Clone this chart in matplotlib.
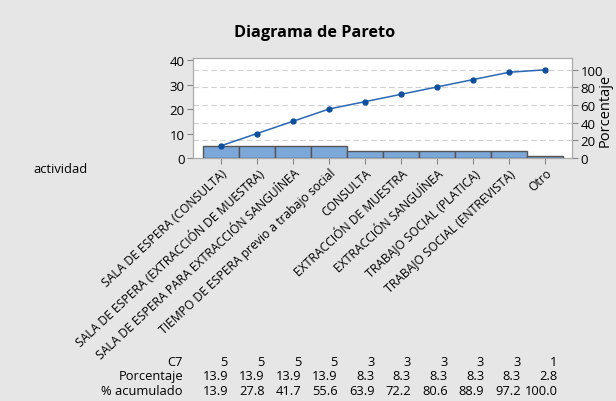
import matplotlib
matplotlib.use("Agg")
import matplotlib.pyplot as plt
import numpy as np

categories = [
    "SALA DE ESPERA (CONSULTA)",
    "SALA DE ESPERA (EXTRACCIÓN DE MUESTRA)",
    "SALA DE ESPERA PARA EXTRACCIÓN SANGUÍNEA",
    "TIEMPO DE ESPERA previo a trabajo social",
    "CONSULTA",
    "EXTRACCIÓN DE MUESTRA",
    "EXTRACCIÓN SANGUÍNEA",
    "TRABAJO SOCIAL (PLATICA)",
    "TRABAJO SOCIAL (ENTREVISTA)",
    "Otro",
]
counts = [5, 5, 5, 5, 3, 3, 3, 3, 3, 1]
percent = [13.9, 13.9, 13.9, 13.9, 8.3, 8.3, 8.3, 8.3, 8.3, 2.8]
cum_percent = [13.9, 27.8, 41.7, 55.6, 63.9, 72.2, 80.6, 88.9, 97.2, 100.0]
left_ticks = [0, 10, 20, 30, 40]
right_ticks = [0, 20, 40, 60, 80, 100]

plt.rcParams['font.family'] = ['Open Sans', 'DejaVu Sans']

bg = '#e6e6e6'
fig = plt.figure(figsize=(6.16, 4.02), dpi=100, facecolor=bg)
ax = fig.add_axes([193/616, 1-159/402, (572-193)/616, (159-59.3)/402])
ax.set_facecolor('white')

total = sum(counts)
x = np.arange(len(categories))
cum_counts = np.cumsum(counts)

ax.bar(x, counts, width=1.0, color='#7ba7d9', edgecolor='#555555', linewidth=1.0, zorder=3)
ax.plot(x, cum_counts, color='#2a68b5', lw=1.1, marker='o', markersize=3.5,
        markerfacecolor='#0d4f9e', markeredgecolor='#0d4f9e', zorder=4)

ymax = 40.7
ax.set_ylim(0, ymax)
ax.set_xlim(-0.78, 9.75)
ax.set_yticks(left_ticks)
ax.tick_params(axis='y', labelsize=9.5, length=4, color='#888888', pad=2)
ax.set_xticks(x)
ax.set_xticklabels(categories, rotation=43, ha='right', rotation_mode='anchor', fontsize=8.7)
ax.tick_params(axis='x', length=4, color='#888888', pad=2)

ax2 = ax.twinx()
ax2.set_ylim(0, ymax * 100 / total)
ax2.set_yticks(right_ticks)
ax2.tick_params(axis='y', labelsize=9.5, length=4, color='#888888', pad=2)
for t in right_ticks[1:]:
    ax2.axhline(t, color='#d0d0d0', lw=0.8, ls=(0, (5, 3)), zorder=0)
ax.set_zorder(ax2.get_zorder() + 1)
ax.patch.set_visible(False)
ax2.patch.set_visible(True)
ax2.patch.set_facecolor('white')
ax2.set_zorder(0)

fig.text(605/616, 1-110/402, 'Porcentaje', rotation=90, ha='center', va='center',
         fontsize=10.5)

for a in (ax, ax2):
    for s in a.spines.values():
        s.set_color('#aaaaaa')
        s.set_linewidth(0.8)

fig.text(315/616, 1-33/402, 'Diagrama de Pareto', ha='center', va='center',
         fontsize=11.7, fontweight='bold')
fig.text(61/616, 1-170/402, 'actividad', ha='center', va='center', fontsize=9.3)

row_labels = ['C7', 'Porcentaje', '% acumulado']
row_y = [362.7, 376.7, 391.7]
rows = [[str(c) for c in counts],
        [f"{p:.1f}" for p in percent],
        [f"{p:.1f}" for p in cum_percent]]
for lab, yy, vals in zip(row_labels, row_y, rows):
    fig.text(183/616, 1-yy/402, lab, ha='right', va='center', fontsize=9.3)
    for i, v in enumerate(vals):
        fig.text((228 + i*36.6)/616, 1-yy/402, v, ha='right', va='center', fontsize=9.3)

fig.savefig('out.png', dpi=100, facecolor=bg)
